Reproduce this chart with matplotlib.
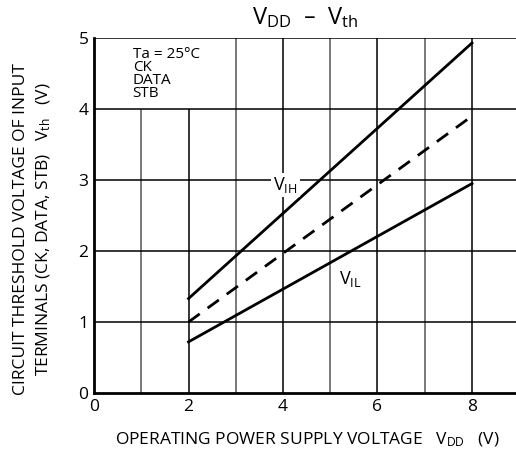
import matplotlib
matplotlib.use("Agg")
import matplotlib.pyplot as plt

plt.rcParams['font.family'] = ['Open Sans', 'DejaVu Sans']
plt.rcParams['mathtext.default'] = 'regular'

# VDD (V) endpoints of each curve
vdd = [2, 8]
vih = [1.33, 4.93]
vmid = [1.0, 3.9]
vil = [0.72, 2.95]

xticks = [0, 2, 4, 6, 8]
yticks = [0, 1, 2, 3, 4, 5]

fig = plt.figure(figsize=(5.16, 4.54), dpi=100)
ax = fig.add_axes([94/516, 1-393/454, 1-94/516, 355/454])
ax.set_xlim(0, 422/47.25)
ax.set_ylim(0, 5)

# grid, x=1 and x=2 stop under the condition text
for gx in range(1, 9):
    top = 4 if gx <= 2 else 5
    col = 'black' if gx % 2 == 0 else '#555555'
    ax.vlines(gx, 0, top, color=col, lw=1.1, zorder=1)
for gy in range(1, 6):
    ax.axhline(gy, color='black', lw=1.1, zorder=1)

ax.plot(vdd, vih, color='black', lw=2, zorder=3)
ax.plot(vdd, vmid, color='black', lw=2, ls=(0, (5, 3.5)), zorder=3)
ax.plot(vdd, vil, color='black', lw=2, zorder=3)

ax.text(4.05, 2.93, 'V$_{IH}$', fontsize=13, ha='center', va='center', zorder=4,
        bbox=dict(facecolor='white', edgecolor='none', pad=1.5))
ax.text(5.42, 1.6, 'V$_{IL}$', fontsize=13, ha='center', va='center', zorder=4,
        bbox=dict(facecolor='white', edgecolor='none', pad=1.5))
ax.text(0.82, 4.88, 'Ta = 25°C\nCK\nDATA\nSTB', fontsize=11, ha='left', va='top',
        linespacing=0.82, zorder=4)

for s in ['top', 'right']:
    ax.spines[s].set_visible(False)
ax.spines['left'].set_linewidth(2)
ax.spines['bottom'].set_linewidth(2)

ax.set_xticks(xticks)
ax.set_yticks(yticks)
ax.tick_params(length=0, labelsize=12.5, pad=4)

fig.text(305/516, 1-18/454, 'V$_{DD}$  –  V$_{th}$', fontsize=17, ha='center', va='center')
fig.text(307/516, 1-440/454, 'OPERATING POWER SUPPLY VOLTAGE   V$_{DD}$   (V)',
         fontsize=12.5, ha='center', va='center')
fig.text(21/516, 1-229/454, 'CIRCUIT THRESHOLD VOLTAGE OF INPUT',
         fontsize=12.5, rotation=90, ha='center', va='center')
fig.text(44/516, 1-229/454, 'TERMINALS (CK, DATA, STB)   V$_{th}$   (V)',
         fontsize=12.5, rotation=90, ha='center', va='center')

fig.savefig('out.png', dpi=100)
